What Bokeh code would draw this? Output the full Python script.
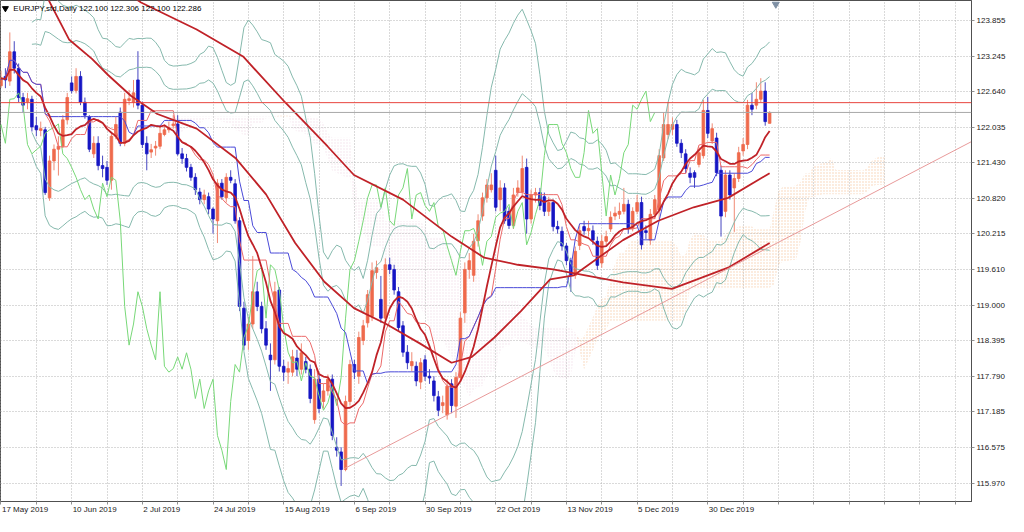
import numpy as np
import pandas as pd
from bokeh.plotting import figure
from bokeh.models import (Range1d, FixedTicker, NumeralTickFormatter, Label, Span,
                          ColumnDataSource, LinearAxis, CustomJSTickFormatter)
from bokeh.embed import file_html
from bokeh.resources import INLINE

# ---------------- data ----------------
title_text = "EURJPY,std,Daily  122.100 122.306 122.100 122.286"

date_labels = ["17 May 2019", "10 Jun 2019", "2 Jul 2019", "24 Jul 2019", "15 Aug 2019",
               "6 Sep 2019", "30 Sep 2019", "22 Oct 2019", "13 Nov 2019", "5 Dec 2019",
               "30 Dec 2019"]
label_step = 16      # bars between date labels
grid_step = 8        # bars between vertical grid lines

y_ticks = [115.970, 116.575, 117.185, 117.790, 118.395, 119.000, 119.610, 120.215,
           120.820, 121.430, 122.035, 122.640, 123.245, 123.855]

opens = [
    122.74, 122.90, 122.82, 123.32, 123.04, 122.54, 122.47, 122.51, 122.06, 121.98,
    121.99, 120.83, 121.46, 121.66, 121.71, 122.16, 122.79, 122.66, 122.90, 122.46,
    122.21, 121.58, 121.76, 121.38, 121.35, 121.13, 121.88, 122.29, 121.76, 122.49,
    122.46, 122.84, 122.41, 121.76, 121.61, 121.68, 121.71, 121.91, 121.99, 122.06,
    122.09, 121.58, 121.50, 121.35, 121.18, 120.93, 120.80, 120.85, 120.64, 120.44,
    121.08, 120.83, 121.18, 121.07, 120.44, 118.95, 118.40, 118.68, 119.23, 118.98,
    118.60, 118.15, 118.07, 119.26, 117.96, 117.86, 117.86, 118.10, 117.91, 118.04,
    117.91, 117.05, 117.74, 117.36, 117.54, 117.74, 116.58, 116.50, 116.20, 117.36,
    117.99, 117.79, 118.40, 118.70, 118.81, 119.56, 119.10, 118.78, 119.69, 119.61,
    119.23, 118.65, 118.20, 117.97, 117.96, 117.69, 118.07, 117.79, 117.71, 117.44,
    117.29, 117.13, 117.66, 117.28, 117.77, 118.87, 119.61, 119.51, 120.10, 120.52,
    120.83, 120.97, 121.30, 120.80, 121.00, 120.60, 120.36, 120.92, 120.93, 121.35,
    120.47, 120.88, 120.92, 120.85, 120.60, 120.75, 120.34, 120.26, 120.01, 119.76,
    119.51, 120.02, 120.34, 120.27, 120.27, 120.09, 119.72, 120.09, 120.30, 120.52,
    120.55, 120.60, 120.72, 120.31, 120.60, 120.75, 120.27, 120.11, 120.55, 120.62,
    121.51, 121.91, 122.00, 122.08, 121.76, 121.58, 121.25, 121.26, 121.40, 121.55,
    122.32, 121.80, 121.85, 121.30, 120.60, 121.22, 121.00, 121.16, 121.63, 121.74,
    122.41, 122.41, 122.51, 122.65, 122.100]

highs = [
    123.00, 123.04, 123.65, 123.50, 123.12, 122.62, 122.62, 122.57, 122.21, 122.13,
    122.04, 121.55, 121.74, 121.88, 122.24, 122.62, 122.90, 123.04, 122.99, 122.54,
    122.24, 121.88, 121.88, 121.55, 121.46, 121.94, 122.21, 122.37, 122.62, 122.67,
    122.84, 123.33, 122.47, 121.88, 121.75, 121.80, 122.04, 122.08, 122.13, 122.24,
    122.24, 121.68, 121.58, 121.41, 121.25, 121.00, 120.97, 120.92, 120.67, 121.15,
    121.15, 121.25, 121.30, 121.15, 120.50, 119.06, 118.80, 119.84, 119.40, 119.06,
    118.73, 118.35, 119.40, 119.31, 118.07, 118.04, 118.24, 118.24, 118.35, 118.12,
    117.99, 117.91, 117.82, 117.66, 117.82, 117.82, 116.75, 116.58, 117.46, 118.07,
    118.07, 118.55, 118.75, 119.26, 119.73, 119.76, 119.50, 119.80, 119.81, 119.69,
    119.31, 118.73, 118.32, 118.20, 118.04, 118.10, 118.15, 117.91, 117.79, 117.54,
    117.46, 117.74, 117.74, 117.86, 118.88, 119.73, 119.89, 120.22, 120.55, 120.92,
    121.15, 121.25, 121.55, 121.13, 121.08, 120.67, 121.00, 121.13, 121.55, 121.50,
    120.97, 121.00, 121.00, 120.92, 120.85, 120.80, 120.44, 120.34, 120.06, 119.81,
    120.00, 120.36, 120.44, 120.44, 120.36, 120.17, 120.20, 120.27, 120.60, 120.68,
    120.75, 121.00, 120.80, 120.67, 120.88, 120.85, 120.36, 120.64, 120.88, 121.66,
    122.29, 122.46, 122.20, 122.16, 121.83, 121.66, 121.35, 121.30, 121.70, 122.50,
    122.55, 122.10, 121.94, 121.38, 121.30, 121.30, 121.25, 121.70, 121.85, 122.50,
    122.62, 122.80, 122.87, 122.80, 122.306]

lows = [
    122.70, 122.70, 122.74, 122.95, 122.46, 122.29, 122.34, 121.96, 121.88, 121.88,
    120.88, 120.78, 121.30, 121.21, 121.68, 122.08, 122.61, 122.61, 122.41, 122.18,
    121.61, 121.51, 121.30, 121.18, 121.05, 120.97, 121.83, 121.71, 121.71, 122.41,
    122.37, 122.34, 121.68, 121.30, 121.51, 121.55, 121.66, 121.88, 121.94, 122.01,
    121.55, 121.41, 121.28, 121.12, 120.88, 120.72, 120.72, 120.55, 120.22, 120.06,
    120.80, 120.75, 121.08, 120.39, 118.90, 118.24, 118.24, 118.60, 118.90, 118.52,
    118.24, 117.54, 117.99, 117.87, 117.71, 117.66, 117.79, 117.79, 117.82, 117.84,
    117.33, 116.98, 117.16, 117.24, 117.46, 116.70, 116.42, 115.92, 116.17, 117.29,
    117.74, 117.66, 118.32, 118.62, 118.73, 119.45, 118.70, 118.70, 119.53, 119.18,
    118.55, 118.12, 117.91, 117.87, 117.62, 117.57, 117.71, 117.66, 117.36, 117.11,
    117.16, 117.05, 117.16, 117.08, 117.71, 118.70, 119.45, 119.40, 120.00, 120.44,
    120.75, 120.92, 120.60, 120.60, 120.39, 120.30, 120.30, 120.85, 120.88, 120.22,
    120.39, 120.75, 120.62, 120.52, 120.52, 120.26, 120.22, 119.93, 119.68, 119.23,
    119.45, 119.94, 120.20, 120.17, 120.03, 119.60, 119.64, 120.01, 120.25, 120.45,
    120.47, 120.55, 120.22, 120.26, 120.55, 119.95, 120.13, 120.03, 120.47, 120.47,
    121.46, 121.83, 121.90, 121.70, 121.51, 121.25, 121.08, 121.00, 121.35, 121.50,
    121.85, 121.75, 121.20, 120.17, 120.50, 120.80, 120.25, 121.10, 121.55, 121.66,
    122.24, 122.34, 122.46, 122.06, 122.100]

closes = [
    122.87, 122.84, 123.32, 123.04, 122.54, 122.41, 122.52, 122.04, 121.99, 122.01,
    120.92, 121.46, 121.66, 121.71, 122.16, 122.54, 122.66, 122.90, 122.46, 122.24,
    121.66, 121.76, 121.38, 121.33, 121.13, 121.88, 122.08, 121.76, 122.51, 122.52,
    122.62, 122.41, 121.74, 121.58, 121.65, 121.71, 121.93, 121.99, 122.03, 122.09,
    121.58, 121.50, 121.35, 121.18, 120.97, 120.80, 120.88, 120.64, 120.47, 121.08,
    120.85, 121.18, 121.13, 120.44, 118.98, 118.32, 118.68, 119.23, 118.98, 118.60,
    118.32, 118.07, 119.23, 117.96, 117.86, 117.92, 118.12, 117.91, 118.19, 117.91,
    117.41, 117.74, 117.24, 117.54, 117.74, 116.78, 116.53, 116.20, 117.36, 117.99,
    117.86, 118.45, 118.65, 119.18, 119.59, 119.64, 118.78, 119.69, 119.61, 119.26,
    118.62, 118.20, 118.02, 118.04, 117.71, 118.02, 117.79, 117.76, 117.46, 117.21,
    117.34, 117.62, 117.29, 117.77, 118.78, 119.61, 119.76, 120.09, 120.44, 120.83,
    121.05, 121.05, 120.67, 121.00, 120.44, 120.36, 120.88, 121.00, 121.33, 120.47,
    120.88, 120.92, 120.70, 120.60, 120.75, 120.34, 120.30, 120.01, 119.76, 119.51,
    119.92, 120.27, 120.27, 120.31, 120.11, 119.68, 120.09, 120.17, 120.50, 120.57,
    120.60, 120.72, 120.31, 120.60, 120.75, 120.03, 120.24, 120.55, 120.80, 121.55,
    122.08, 122.08, 122.08, 121.76, 121.60, 121.33, 121.18, 121.18, 121.60, 122.32,
    121.93, 122.01, 121.26, 120.52, 121.22, 120.88, 121.16, 121.60, 121.74, 122.41,
    122.34, 122.51, 122.65, 122.13, 122.286]

# longer moving averages (bar index, price)
ma_mid_x = [9.9, 15.4, 20.6, 24.3, 29.4, 35.4, 41.4, 44.3, 53.2, 60.0, 66.6, 73.2, 79.9,
            87.2, 94.8, 102.0, 106.6, 111.7, 117.7, 124.3, 129.7, 140.8, 148.8, 156.8,
            164.6, 174.0]
ma_mid_y = [124.33, 123.53, 123.20, 122.92, 122.57, 122.26, 122.09, 122.01, 121.50, 120.89,
            120.06, 119.40, 118.95, 118.68, 118.35, 118.02, 118.12, 118.45, 118.90, 119.44,
            119.51, 120.11, 120.44, 120.67, 120.83, 121.25]
ma_slow_x = [29.0, 31.7, 44.3, 54.8, 64.3, 73.9, 79.9, 91.0, 102.0, 109.4, 117.0, 125.0,
             140.8, 151.9, 164.6, 174.0]
ma_slow_y = [124.30, 124.16, 123.70, 123.24, 122.46, 121.71, 121.22, 120.80, 120.17, 119.81,
             119.69, 119.61, 119.39, 119.28, 119.64, 120.06]

level_red = 122.453
bid_price = 122.286
trend_x = [77.6, 221.0]
trend_y = [116.21, 121.84]

# ---------------- indicators ----------------
n = len(closes)
idx = np.arange(n)
c = pd.Series(closes)
h = pd.Series(highs)
l = pd.Series(lows)

fast_ma = c.rolling(10, min_periods=1).mean()
bb_mid = c.rolling(20, min_periods=8).mean()
bb_sd = c.rolling(20, min_periods=8).std(ddof=0)

tenkan = (h.rolling(9, min_periods=1).max() + l.rolling(9, min_periods=1).min()) / 2
kijun = (h.rolling(26, min_periods=1).max() + l.rolling(26, min_periods=1).min()) / 2
span_a = ((tenkan + kijun) / 2).values
span_b = ((h.rolling(52, min_periods=1).max() + l.rolling(52, min_periods=1).min()) / 2).values
cloud_x = idx + 26
top_ab = np.maximum(span_a, span_b)

# ---------------- figure ----------------
y_lo, y_hi = 115.655, 124.194
x_lo, x_hi = -0.11, 219.7
p = figure(width=1008, height=516, output_backend="svg", toolbar_location=None,
           x_range=Range1d(x_lo, x_hi), y_range=Range1d(y_lo, y_hi),
           y_axis_location="right", min_border_left=0, min_border_top=0,
           min_border_right=2, min_border_bottom=0,
           background_fill_color="white", border_fill_color="white")
p.outline_line_color = "#505050"

xticks = list(range(0, 220, grid_step))
p.xaxis.ticker = FixedTicker(ticks=xticks)
p.xaxis.major_label_overrides = {t: "" for t in xticks}
p.xaxis.major_label_standoff = 0
p.yaxis.ticker = FixedTicker(ticks=y_ticks)
p.yaxis.formatter = NumeralTickFormatter(format="0.000")
p.xgrid.ticker = FixedTicker(ticks=xticks)
p.ygrid.ticker = FixedTicker(ticks=y_ticks)
p.xaxis.minor_tick_line_color = None
p.yaxis.minor_tick_line_color = None
for ax in (p.xaxis, p.yaxis):
    ax.axis_line_color = "#505050"
    ax.major_tick_line_color = "#909090"
    ax.major_tick_in = 0
    ax.major_tick_out = 3
    ax.major_label_text_font = "Liberation Sans"
    ax.major_label_text_font_size = "8px"
    ax.major_label_text_color = "#222222"
p.yaxis.major_label_standoff = 2
p.grid.grid_line_color = "#b4b4b4"
p.grid.grid_line_dash = "1 2"
p.grid.grid_line_width = 1

# date labels on a second, line-less axis: each label is placed so that its
# left edge sits on its grid tick (terminal style) instead of being centred
char_em = {d: 0.556 for d in "0123456789"}
char_em.update({" ": 0.278, "M": 0.833, "a": 0.556, "y": 0.5, "J": 0.5, "u": 0.556,
                "n": 0.556, "l": 0.222, "A": 0.667, "g": 0.556, "S": 0.667, "e": 0.556,
                "p": 0.556, "O": 0.778, "c": 0.5, "t": 0.278, "N": 0.722, "o": 0.556,
                "v": 0.5, "D": 0.722})
font_px = 8.0
px_per_bar = 971.0 / (x_hi - x_lo)
label_pos = []
for k, lab in enumerate(date_labels):
    w = sum(char_em.get(ch, 0.55) for ch in lab) * font_px
    label_pos.append(round(k * label_step + (w / 2 + 1) / px_per_bar, 3))
date_axis = LinearAxis(ticker=FixedTicker(ticks=label_pos),
                       formatter=CustomJSTickFormatter(args=dict(labels=date_labels),
                                                       code="return labels[index] || '';"),
                       axis_line_color=None, major_tick_line_color=None,
                       minor_tick_line_color=None, major_tick_out=0, major_tick_in=0,
                       major_label_standoff=0,
                       major_label_text_font="Liberation Sans",
                       major_label_text_font_size="8px",
                       major_label_text_color="#222222")
p.add_layout(date_axis, "below")

# Ichimoku cloud (dotted fill)
p.varea(x=cloud_x, y1=span_b, y2=top_ab, fill_alpha=0, hatch_pattern="dot",
        hatch_color="#f2a66e", hatch_alpha=0.55, hatch_scale=3, hatch_weight=1)
p.varea(x=cloud_x, y1=span_a, y2=top_ab, fill_alpha=0, hatch_pattern="dot",
        hatch_color="#e6c2d6", hatch_alpha=0.5, hatch_scale=3, hatch_weight=1)

# candles
bull = np.array(closes) >= np.array(opens)
src = ColumnDataSource(dict(
    x=idx, high=highs, low=lows,
    top=np.maximum(opens, closes), bottom=np.minimum(opens, closes),
    body=np.where(bull, "#ef6a4c", "#1616c4"),
    wick=np.where(bull, "#f08a74", "#4646c0")))
p.segment(x0="x", y0="low", x1="x", y1="high", line_color="wick", line_width=1, source=src)
p.vbar(x="x", width=0.6, top="top", bottom="bottom", fill_color="body",
       line_color="body", line_width=0.8, source=src)

# Bollinger bands (20, 2) and (20, 3)
band_col = "#86b9ad"
for dev in (2, 3):
    p.line(idx, bb_mid + dev * bb_sd, line_color=band_col, line_width=1)
    p.line(idx, bb_mid - dev * bb_sd, line_color=band_col, line_width=1)

# Ichimoku lines
p.line(idx - 26, closes, line_color="#78d878", line_width=1)          # chikou
p.line(idx, tenkan, line_color="#ec6a6a", line_width=1)               # tenkan
p.line(idx, kijun, line_color="#4a4ad8", line_width=1)                # kijun

# moving averages
ma_col = "#c02228"
p.line(idx, fast_ma, line_color=ma_col, line_width=1.8)
p.line(ma_mid_x, ma_mid_y, line_color=ma_col, line_width=1.8)
p.line(ma_slow_x, ma_slow_y, line_color=ma_col, line_width=1.8)

# levels and trend line
p.add_layout(Span(location=level_red, dimension="width", line_color="#e8453e", line_width=1))
p.add_layout(Span(location=bid_price, dimension="width", line_color="#a8a8a8", line_width=1))
p.line(trend_x, trend_y, line_color="#e89a9a", line_width=1)

# header
p.scatter([1.0], [124.06], marker="inverted_triangle", size=6, color="black")
p.add_layout(Label(x=2.8, y=124.06, text=title_text, text_font="Liberation Sans",
                   text_font_size="8px", text_color="black", text_baseline="middle"))
p.scatter([175.4], [124.13], marker="inverted_triangle", size=7, color="#7f90a4")

# price boxes on the axis
p.add_layout(Label(x=x_hi, y=level_red, x_offset=1, text="122.453", text_font="Liberation Sans",
                   text_font_size="8px", text_color="white", text_baseline="middle",
                   background_fill_color="#e5322d", padding=1))
p.add_layout(Label(x=x_hi, y=bid_price, x_offset=1, text="122.286", text_font="Liberation Sans",
                   text_font_size="8px", text_color="white", text_baseline="middle",
                   background_fill_color="#111111", padding=1))

open("out.html", "w").write(file_html(p, INLINE))
